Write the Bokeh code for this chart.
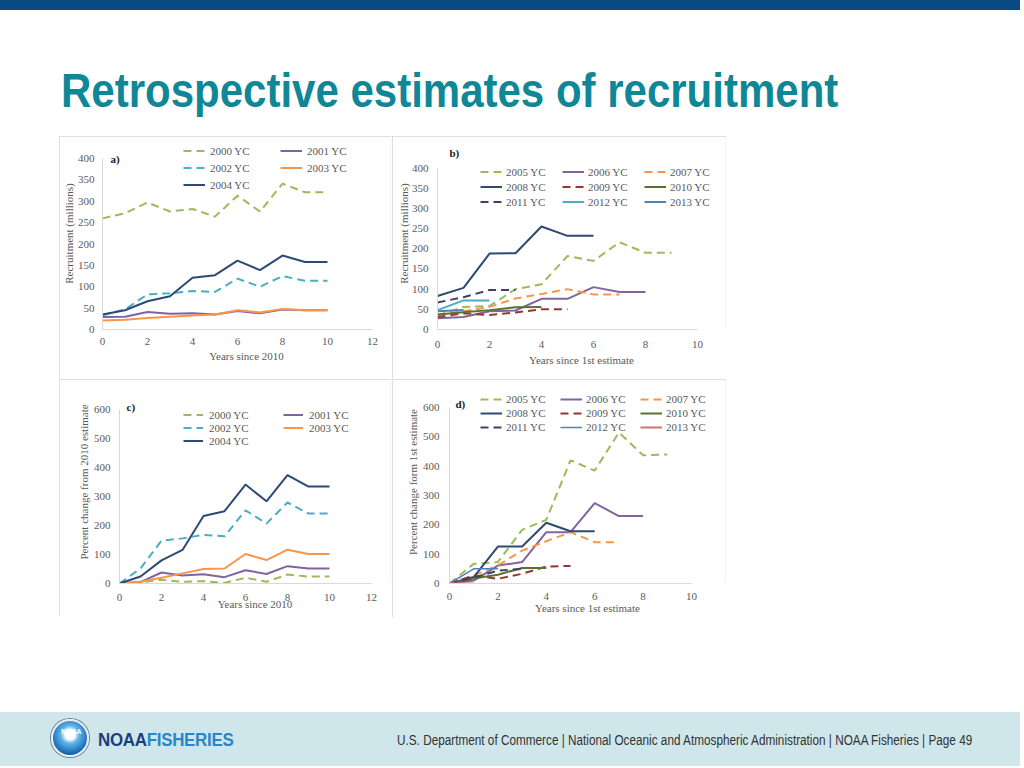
from bokeh.plotting import figure
from bokeh.layouts import column, row
from bokeh.models import Div, Spacer, Range1d, FixedTicker, Legend, LegendItem, Label
from bokeh.embed import file_html
from bokeh.resources import INLINE

# ---------------- data ----------------
# panel a: recruitment (millions), x = years since 2010
rec_a_2000 = [260, 272, 297, 276, 282, 264, 313, 276, 341, 321, 321]
rec_a_2001 = [29, 30, 41, 37, 38, 35, 43, 38, 47, 45, 45]
rec_a_2002 = [33, 47, 82, 85, 90, 88, 119, 100, 125, 114, 114]
rec_a_2003 = [21, 23, 27, 30, 33, 35, 45, 40, 48, 45, 45]
rec_a_2004 = [35, 45, 66, 78, 121, 127, 161, 139, 173, 158, 158]

# panel b: recruitment (millions), x = years since 1st estimate
rec_b_2005 = [35, 56, 58, 100, 112, 182, 170, 216, 190, 190]
rec_b_2006 = [28, 31, 45, 47, 76, 76, 105, 93, 93]
rec_b_2007 = [36, 45, 56, 77, 88, 100, 87, 87]
rec_b_2008 = [83, 103, 188, 189, 255, 232, 232]
rec_b_2009 = [31, 40, 36, 42, 50, 50]
rec_b_2010 = [37, 43, 48, 55, 56]
rec_b_2011 = [67, 80, 98, 98]
rec_b_2012 = [48, 72, 72]
rec_b_2013 = [45, 48]

# panel c: percent change from 2010 estimate
pct_c_2000 = [0, 4, 13, 6, 8, 2, 20, 6, 31, 24, 24]
pct_c_2001 = [0, 5, 38, 28, 32, 22, 46, 33, 60, 52, 52]
pct_c_2002 = [0, 52, 148, 156, 168, 163, 253, 207, 280, 242, 242]
pct_c_2003 = [0, 6, 20, 35, 50, 52, 102, 81, 117, 102, 102]
pct_c_2004 = [0, 24, 80, 116, 233, 250, 342, 284, 375, 335, 335]

# panel d: percent change from 1st estimate
pct_d_2005 = [0, 67, 73, 183, 217, 420, 385, 515, 437, 440]
pct_d_2006 = [0, 10, 61, 73, 175, 175, 274, 230, 230]
pct_d_2007 = [0, 27, 62, 112, 144, 175, 141, 141]
pct_d_2008 = [0, 22, 126, 126, 207, 178, 178]
pct_d_2009 = [0, 27, 16, 33, 58, 60]
pct_d_2010 = [0, 17, 30, 53, 53]
pct_d_2011 = [0, 20, 44, 50]
pct_d_2012 = [0, 50, 50]
pct_d_2013 = [0, 0]

labels_a = ["2000 YC", "2001 YC", "2002 YC", "2003 YC", "2004 YC"]
labels_b = ["2005 YC", "2006 YC", "2007 YC", "2008 YC", "2009 YC",
            "2010 YC", "2011 YC", "2012 YC", "2013 YC"]

# ---------------- styles ----------------
GREEN, PURPLE, AQUA, ORANGE, NAVY = "#9BBB59", "#8064A2", "#4BACC6", "#F79646", "#2C4A74"
DRED, OLIVE, DPURP, BLUE, PINK = "#943634", "#5A7030", "#403F68", "#4F81BD", "#D9706E"
DASH = "8 5"

sty_a = {"2000 YC": (GREEN, DASH, 2), "2001 YC": (PURPLE, "solid", 2),
         "2002 YC": (AQUA, DASH, 2), "2003 YC": (ORANGE, "solid", 2),
         "2004 YC": (NAVY, "solid", 2)}
sty_b = {"2005 YC": (GREEN, DASH, 2), "2006 YC": (PURPLE, "solid", 2),
         "2007 YC": (ORANGE, DASH, 2), "2008 YC": (NAVY, "solid", 2),
         "2009 YC": (DRED, DASH, 2), "2010 YC": (OLIVE, "solid", 2),
         "2011 YC": (DPURP, DASH, 2), "2012 YC": (AQUA, "solid", 2),
         "2013 YC": (BLUE, "solid", 2)}
sty_d = dict(sty_b)
sty_d["2012 YC"] = (BLUE, "solid", 1.5)
sty_d["2013 YC"] = (PINK, "solid", 2)

SERIF = "Liberation Serif"
GREY = "#595959"


def panel(W, H, fl, fb, fw, fh, xmax, ymax, ystep, xlab, ylab,
          labels, values, styles, ncol, leg_x, leg_ys, row_h,
          glyph_w, standoff, label_w, leg_font, tag, tag_xy,
          xls, xts, yls, yts, x_lh=1.2):
    # the frame is stretched to the panel's top/right edge so the legend is not clipped;
    # the ranges are widened so that xmax / ymax still land at the reference's positions
    x_end = xmax * (W - fl - 1) / fw
    y_end = ymax * (H - fb - 1) / fh
    p = figure(width=W, height=H, x_range=Range1d(0, x_end), y_range=Range1d(0, y_end),
               output_backend="svg", toolbar_location=None,
               min_border_left=fl, min_border_right=1, min_border_top=1,
               min_border_bottom=fb, margin=(0, 0, 0, 0))
    p.styles = {"outline": "1px solid #d4d4d4", "outline-offset": "-1px"}
    p.outline_line_color = None
    p.xgrid.visible = False
    p.ygrid.visible = False
    p.background_fill_color = "white"
    p.border_fill_color = "white"
    p.xaxis.ticker = FixedTicker(ticks=list(range(0, xmax + 1, 2)))
    p.yaxis.ticker = FixedTicker(ticks=list(range(0, ymax + 1, ystep)))
    p.xaxis.bounds = (0, xmax)
    p.yaxis.bounds = (0, ymax)
    p.xaxis.axis_label = xlab
    p.yaxis.axis_label = ylab
    for ax in (p.xaxis[0], p.yaxis[0]):
        ax.axis_line_color = "#d9d9d9"
        ax.axis_line_width = 1
        ax.major_tick_line_color = None
        ax.minor_tick_line_color = None
        ax.major_tick_out = 0
        ax.major_tick_in = 0
        ax.minor_tick_out = 0
        ax.minor_tick_in = 0
        ax.major_label_text_font = SERIF
        ax.major_label_text_font_size = "11px"
        ax.major_label_text_color = GREY
        ax.axis_label_text_font = SERIF
        ax.axis_label_text_font_size = "11px"
        ax.axis_label_text_font_style = "normal"
        ax.axis_label_text_color = GREY
    p.xaxis.major_label_text_line_height = x_lh
    p.xaxis.axis_label_text_line_height = x_lh
    p.xaxis.major_label_standoff = xls
    p.xaxis.axis_label_standoff = xts
    p.yaxis.major_label_standoff = yls
    p.yaxis.axis_label_standoff = yts

    items = []
    for lab, vals in zip(labels, values):
        c, d, w = styles[lab]
        r = p.line(list(range(len(vals))), vals, line_color=c, line_dash=d, line_width=w)
        items.append(LegendItem(label=lab, renderers=[r]))

    for i, ly in enumerate(leg_ys):
        chunk = items[i * ncol:(i + 1) * ncol]
        if not chunk:
            continue
        lg = Legend(items=chunk, orientation="horizontal", location=(leg_x, ly),
                    glyph_width=glyph_w, glyph_height=row_h, label_height=row_h,
                    label_width=label_w, label_standoff=standoff, spacing=0,
                    padding=0, margin=0, border_line_color=None,
                    background_fill_alpha=0, label_text_font=SERIF,
                    label_text_font_size=leg_font, label_text_color=GREY)
        p.add_layout(lg)

    p.add_layout(Label(x=tag_xy[0], y=tag_xy[1], x_units="screen", y_units="screen",
                       text=tag, text_font=SERIF, text_font_style="bold",
                       text_font_size="11px", text_baseline="middle", text_color="#222222"))
    return p


pa = panel(332, 242, 43, 49, 270, 171, 12, 400, 50, "Years since 2010", "Recruitment (millions)",
           labels_a, [rec_a_2000, rec_a_2001, rec_a_2002, rec_a_2003, rec_a_2004], sty_a,
           2, 81, [170, 153, 136], 17, 22, 5, 70, "11px", "a)", (8, 171),
           8, 2, 8, 0)

pb = panel(334, 242, 45, 46, 260, 164, 10, 400, 50, "Years since 1st estimate", "Recruitment (millions)",
           labels_b, [rec_b_2005, rec_b_2006, rec_b_2007, rec_b_2008, rec_b_2009,
                      rec_b_2010, rec_b_2011, rec_b_2012, rec_b_2013], sty_b,
           3, 43, [150, 135, 120], 15, 22, 4, 56, "11px", "b)", (12, 177),
           11, 3, 9, -1)

pc = panel(332, 238, 60, 30, 252, 177, 12, 600, 100, "Years since 2010",
           "Percent change from 2010 estimate",
           labels_a, [pct_c_2000, pct_c_2001, pct_c_2002, pct_c_2003, pct_c_2004], sty_a,
           2, 64, [162, 149, 136], 13, 20, 6, 74, "11px", "c)", (7, 177),
           10, -6, 9, 1, x_lh=0.9)

pd_ = panel(334, 238, 57, 34, 242, 176, 10, 600, 100, "Years since 1st estimate",
            "Percent change form 1st estimate",
            labels_b, [pct_d_2005, pct_d_2006, pct_d_2007, pct_d_2008, pct_d_2009,
                       pct_d_2010, pct_d_2011, pct_d_2012, pct_d_2013], sty_d,
            3, 31, [177, 163, 149], 14, 22, 4, 54, "11px", "d)", (6, 180),
            9, -1, 10, 1)

# ---------------- slide chrome ----------------
PAGE_W = 1020
topbar = Div(text="", width=PAGE_W, height=10, margin=(0, 0, 0, 0),
             styles={"background-color": "#0a4b84"})

title = Div(text=("<div style=\"margin-top:57px;margin-left:61px;"
                  "font-family:'Liberation Sans',sans-serif;font-weight:bold;"
                  "font-size:48px;line-height:1;color:#0f8797;white-space:nowrap;"
                  "transform:scaleX(0.875);transform-origin:left top;\">"
                  "Retrospective estimates of recruitment</div>"),
            width=PAGE_W, height=126, margin=(0, 0, 0, 0))

footer_html = (
    "<div style=\"position:relative;width:1020px;height:54px;background:#cfe6ea;overflow:hidden;\">"
    "<div style=\"position:absolute;left:51px;top:7px;width:38px;height:38px;border-radius:50%;"
    "background:radial-gradient(circle at 50% 40%, #ffffff 0%, #ffffff 18%, #5fb3e8 34%, #0d62ad 75%, #0a3f86 100%);"
    "border:2px solid #e8eef4;box-shadow:0 0 0 1px #6a7f99;\"></div>"
    "<div style=\"position:absolute;left:61px;top:15px;font-family:'Liberation Sans';"
    "font-weight:bold;font-size:7px;color:#ffffff;\">NOAA</div>"
    "<div style=\"position:absolute;left:98px;top:17px;font-family:'Liberation Sans',sans-serif;"
    "font-weight:bold;font-size:18px;line-height:22px;letter-spacing:-0.3px;white-space:nowrap;"
    "transform:scaleX(0.94);transform-origin:left top;\">"
    "<span style=\"color:#1c3f7c\">NOAA</span><span style=\"color:#2b86c8\">FISHERIES</span></div>"
    "<div style=\"position:absolute;left:397px;top:20px;font-family:'Liberation Sans',sans-serif;"
    "font-size:14px;line-height:16px;color:#333333;white-space:nowrap;"
    "transform:scaleX(0.84);transform-origin:left top;\">"
    "U.S. Department of Commerce | National Oceanic and Atmospheric Administration | "
    "NOAA Fisheries | Page 49</div>"
    "</div>"
)
footer = Div(text=footer_html, width=PAGE_W, height=54, margin=(0, 0, 0, 0))

grid = column(row(pa, pb, spacing=1), row(pc, pd_, spacing=1), spacing=1)
body = row(Spacer(width=59, height=481, margin=(0, 0, 0, 0)), grid)
page = column(topbar, title, body, Spacer(width=PAGE_W, height=95, margin=(0, 0, 0, 0)), footer)

open("out.html", "w").write(file_html(page, INLINE))
